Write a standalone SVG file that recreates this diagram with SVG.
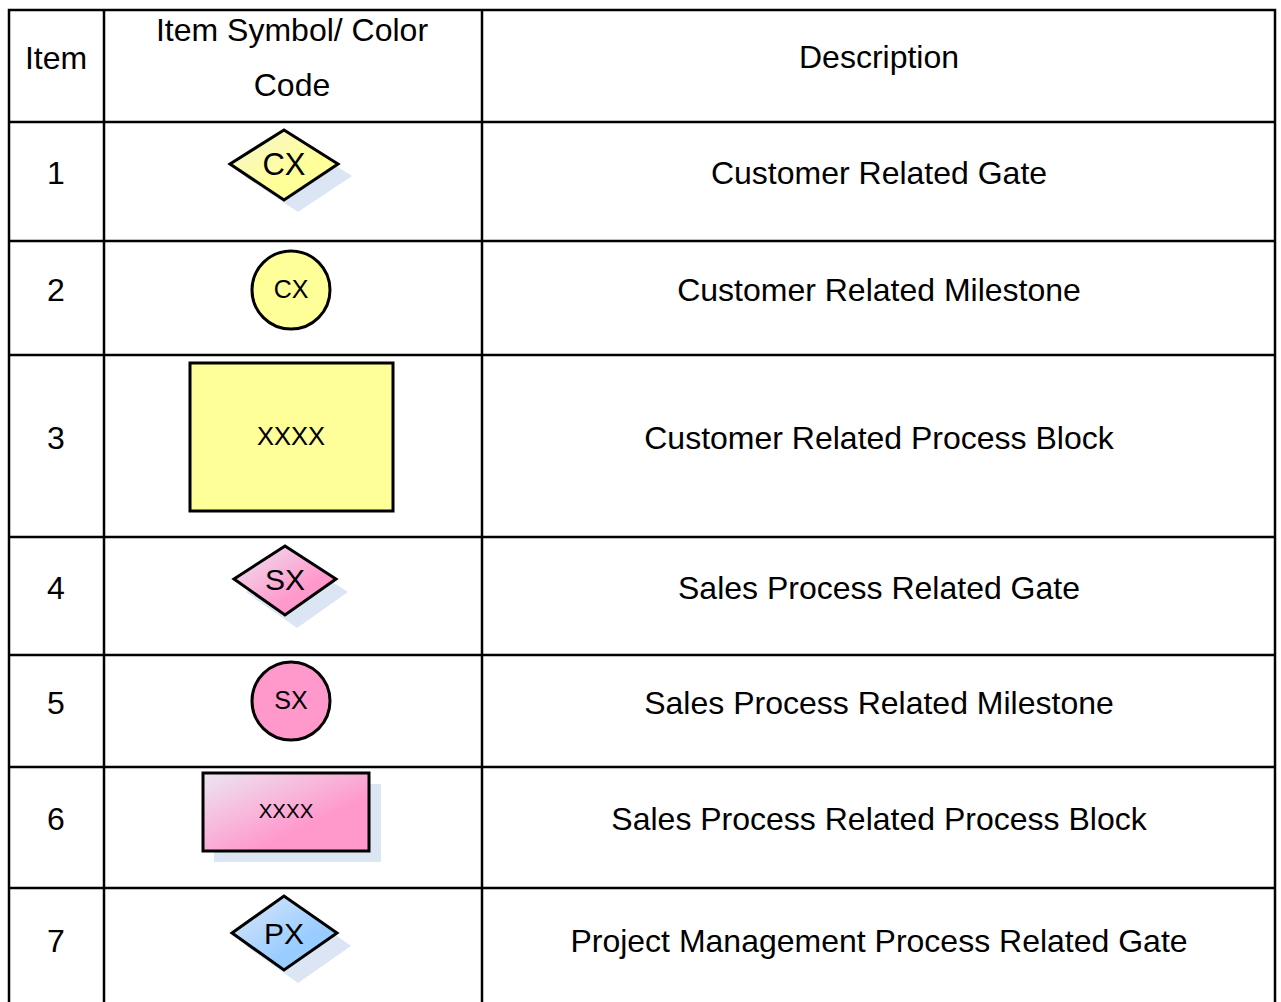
<svg xmlns="http://www.w3.org/2000/svg" width="1281" height="1002" viewBox="0 0 1281 1002">
<style>
  text { font-family: "Liberation Sans", Arial, sans-serif; fill: #000; text-anchor: middle; }
  .t { font-size: 32px; }
  .grid { stroke: #000; stroke-width: 2.5; fill: none; }
  .sym { stroke: #000; stroke-width: 3; stroke-linejoin: miter; }
  .shadow { fill: #dbe5f3; stroke: none; }
</style>
<defs>
  <linearGradient id="gY" x1="0" y1="0" x2="1" y2="1">
    <stop offset="0" stop-color="#f4f4d4"/>
    <stop offset="0.6" stop-color="#ffff99"/>
  </linearGradient>
  <linearGradient id="gP" x1="0" y1="0" x2="1" y2="1">
    <stop offset="0" stop-color="#ece6f2"/>
    <stop offset="0.65" stop-color="#ff99cc"/>
  </linearGradient>
  <linearGradient id="gB" x1="0" y1="0" x2="1" y2="1">
    <stop offset="0" stop-color="#dde8f8"/>
    <stop offset="0.65" stop-color="#99ccff"/>
  </linearGradient>
</defs>

<g id="table">
  <rect class="grid" x="9" y="10" width="1266" height="1000"/>
  <line class="grid" x1="104" y1="10" x2="104" y2="1002"/>
  <line class="grid" x1="482" y1="10" x2="482" y2="1002"/>
  <line class="grid" x1="9" y1="122" x2="1275" y2="122"/>
  <line class="grid" x1="9" y1="241" x2="1275" y2="241"/>
  <line class="grid" x1="9" y1="355" x2="1275" y2="355"/>
  <line class="grid" x1="9" y1="537" x2="1275" y2="537"/>
  <line class="grid" x1="9" y1="655" x2="1275" y2="655"/>
  <line class="grid" x1="9" y1="767" x2="1275" y2="767"/>
  <line class="grid" x1="9" y1="888" x2="1275" y2="888"/>
</g>

<g id="header">
  <text class="t" x="56" y="69">Item</text>
  <text class="t" x="292" y="41">Item Symbol/ Color</text>
  <text class="t" x="292" y="96">Code</text>
  <text class="t" x="879" y="68">Description</text>
</g>

<g id="row1">
  <text class="t" x="56" y="184">1</text>
  <polygon class="shadow" points="244,176 298,142 352,176 298,212"/>
  <polygon class="sym" fill="url(#gY)" points="230,164 284,130 338,164 284,200"/>
  <text x="284" y="175" style="font-size:31px">CX</text>
  <text class="t" x="879" y="184">Customer Related Gate</text>
</g>

<g id="row2">
  <text class="t" x="56" y="301">2</text>
  <circle class="sym" fill="#ffff99" cx="291" cy="290" r="39"/>
  <text x="291" y="298" style="font-size:25px">CX</text>
  <text class="t" x="879" y="301">Customer Related Milestone</text>
</g>

<g id="row3">
  <text class="t" x="56" y="449">3</text>
  <rect class="sym" fill="#ffff99" x="190" y="363" width="203" height="148"/>
  <text x="291" y="445" style="font-size:25.5px">XXXX</text>
  <text class="t" x="879" y="449">Customer Related Process Block</text>
</g>

<g id="row4">
  <text class="t" x="56" y="599">4</text>
  <polygon class="shadow" points="246,592 297,559 348,592 297,628"/>
  <polygon class="sym" fill="url(#gP)" points="234,579 285,546 336,579 285,615"/>
  <text x="285" y="590" style="font-size:30px">SX</text>
  <text class="t" x="879" y="599">Sales Process Related Gate</text>
</g>

<g id="row5">
  <text class="t" x="56" y="714">5</text>
  <circle class="sym" fill="#ff99cc" cx="291" cy="701" r="39"/>
  <text x="291" y="709" style="font-size:25px">SX</text>
  <text class="t" x="879" y="714">Sales Process Related Milestone</text>
</g>

<g id="row6">
  <text class="t" x="56" y="830">6</text>
  <rect class="shadow" x="214" y="784" width="167" height="78"/>
  <rect class="sym" fill="url(#gP)" x="203" y="773" width="166" height="78"/>
  <text x="286" y="818" style="font-size:20.5px">XXXX</text>
  <text class="t" x="879" y="830">Sales Process Related Process Block</text>
</g>

<g id="row7">
  <text class="t" x="56" y="952">7</text>
  <polygon class="shadow" points="246,946 298,908 351,946 298,983"/>
  <polygon class="sym" fill="url(#gB)" points="232,933 284,896 337,933 284,970"/>
  <text x="284" y="944" style="font-size:30px">PX</text>
  <text class="t" x="879" y="952">Project Management Process Related Gate</text>
</g>

<g id="connectors"></g>
</svg>
